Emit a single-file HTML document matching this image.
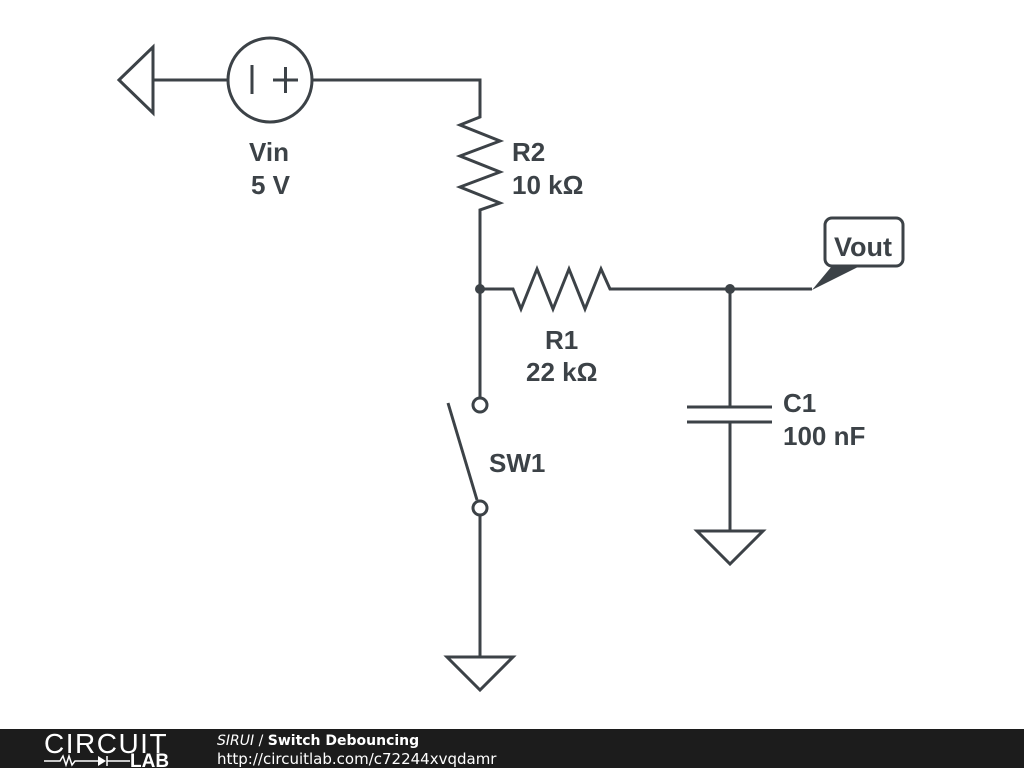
<!DOCTYPE html>
<html><head><meta charset="utf-8"><style>
html,body{margin:0;padding:0;background:#fff;}
svg{display:block}
text{font-family:"Liberation Sans",sans-serif;font-weight:bold;font-size:26px;fill:#3c4247}
</style></head><body>
<svg width="1024" height="768" viewBox="0 0 1024 768">
<g stroke="#3c4247" stroke-width="3" fill="none" stroke-linejoin="miter">
<polygon points="119,80 153,47 153,113"/>
<line x1="153" y1="80" x2="228" y2="80"/>
<circle cx="270" cy="80" r="42"/>
<line x1="252" y1="65" x2="252" y2="94"/>
<line x1="273" y1="80" x2="298" y2="80"/>
<line x1="285.5" y1="67" x2="285.5" y2="93"/>
<polyline points="312,80 480,80 480,117 460,125 500,141 460,156 500,172 460,187 500,203 480,210 480,289 480,397"/>
<polyline points="480,289 513,289 521,309 537,269 553,309 569,269 585,309 601,269 610,289 812,289"/>
<line x1="730" y1="289" x2="730" y2="407"/>
<line x1="687" y1="407" x2="772" y2="407"/>
<line x1="687" y1="422" x2="772" y2="422"/>
<line x1="730" y1="422" x2="730" y2="531"/>
<polygon points="697,531 763,531 730,564"/>
<circle cx="480" cy="405" r="7"/>
<circle cx="480" cy="508" r="7"/>
<line x1="448" y1="403" x2="477" y2="500"/>
<line x1="480" y1="515" x2="480" y2="657"/>
<polygon points="447,657 513,657 480,690"/>
<rect x="825" y="218" width="78" height="48" rx="7"/>
</g>
<polygon points="812,290 832,266 860,266" fill="#3c4247"/>
<circle cx="480" cy="289" r="5" fill="#3c4247"/>
<circle cx="730" cy="289" r="5" fill="#3c4247"/>
<text x="249" y="161">Vin</text>
<text x="251" y="194">5 V</text>
<text x="512" y="161">R2</text>
<text x="512" y="194">10 kΩ</text>
<text x="545" y="349">R1</text>
<text x="526" y="381">22 kΩ</text>
<text x="783" y="412">C1</text>
<text x="783" y="445">100 nF</text>
<text x="489" y="472">SW1</text>
<text x="834" y="256" style="font-size:27px">Vout</text>
<rect x="0" y="729" width="1024" height="39" fill="#1c1c1c"/>
<text x="44" y="753" style="font-weight:normal;font-size:28px;fill:#fff;letter-spacing:1.5px">CIRCUIT</text>
<polyline points="44,761 60,761 63,756 66,765 69,756 72,765 75,761 98,761" stroke="#fff" stroke-width="1.5" fill="none"/>
<polygon points="98,756 98,766 106,761" fill="#fff"/>
<line x1="107" y1="756" x2="107" y2="766" stroke="#fff" stroke-width="1.5"/>
<line x1="107" y1="761" x2="130" y2="761" stroke="#fff" stroke-width="1.5"/>
<text x="130" y="767" style="font-size:19px;fill:#fff;font-weight:bold">LAB</text>
<text x="217" y="745" style="font-size:14px;fill:#fff;font-weight:normal;font-family:'DejaVu Sans',sans-serif"><tspan font-style="italic">SIRUI</tspan> / <tspan font-weight="bold">Switch Debouncing</tspan></text>
<text x="217" y="764" style="font-size:15px;fill:#fff;font-weight:normal;font-family:'DejaVu Sans',sans-serif">http://circuitlab.com/c72244xvqdamr</text>
</svg>
</body></html>
